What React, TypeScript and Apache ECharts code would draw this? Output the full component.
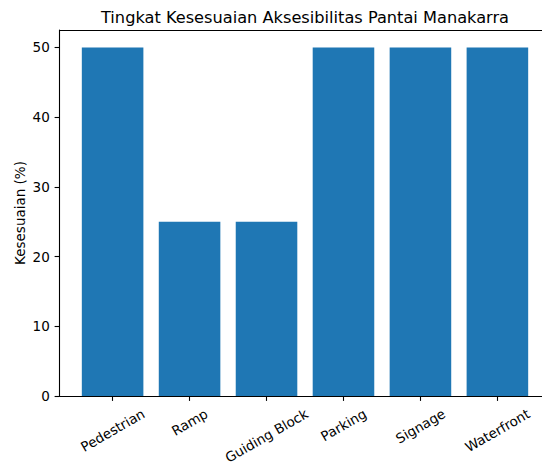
import React, { useEffect, useRef } from "react";
import * as echarts from "echarts";

const categories = ["Pedestrian", "Ramp", "Guiding Block", "Parking", "Signage", "Waterfront"];
const values = [50, 25, 25, 50, 50, 50];
const yTicks = [0, 10, 20, 30, 40, 50];
const titleText = "Tingkat Kesesuaian Aksesibilitas Pantai Manakarra";
const yLabel = "Kesesuaian (%)";

const FONT = "DejaVu Sans";
const TICK_FS = 13.5;
const TITLE_FS = 16.2;

export default function App() {
  const ref = useRef<HTMLDivElement>(null);
  useEffect(() => {
    if (!ref.current) return;
    const chart = echarts.init(ref.current, null, { renderer: "svg" });

    const plotLeft = 59.5;
    const plotTop = 30;
    const plotBottom = 396;
    const xMin = -0.69;
    const xMax = 5.69;
    const plotWidth = 491;
    const unit = plotWidth / (xMax - xMin);
    const catLeft = plotLeft + (-0.5 - xMin) * unit;
    const catWidth = categories.length * unit;
    const yMax = 52.5;

    const axisLineStyle = { color: "#000", width: 1.1 };

    chart.setOption({
      animation: false,
      backgroundColor: "#fff",
      textStyle: { fontFamily: FONT },
      grid: [
        {
          left: plotLeft,
          top: plotTop,
          width: plotWidth,
          height: plotBottom - plotTop,
          outerBoundsMode: "none",
          containLabel: false,
        },
        {
          left: catLeft,
          top: plotTop,
          width: catWidth,
          height: plotBottom - plotTop,
          outerBoundsMode: "none",
          containLabel: false,
        },
      ],
      xAxis: [
        {
          gridIndex: 0,
          type: "value",
          min: 0,
          max: 1,
          position: "bottom",
          axisLine: { show: true, lineStyle: axisLineStyle },
          axisTick: { show: false },
          axisLabel: { show: false },
          splitLine: { show: false },
        },
        {
          gridIndex: 0,
          type: "value",
          min: 0,
          max: 1,
          position: "top",
          axisLine: { show: true, lineStyle: axisLineStyle },
          axisTick: { show: false },
          axisLabel: { show: false },
          splitLine: { show: false },
        },
        {
          gridIndex: 1,
          type: "category",
          data: categories,
          position: "bottom",
          axisLine: { show: false },
          axisTick: {
            show: true,
            alignWithLabel: true,
            interval: 0,
            length: 4.9,
            lineStyle: axisLineStyle,
          },
          axisLabel: { show: false },
          splitLine: { show: false },
        },
      ],
      yAxis: [
        {
          gridIndex: 0,
          type: "value",
          min: 0,
          max: yMax,
          interval: 10,
          position: "left",
          axisLine: { show: true, lineStyle: axisLineStyle },
          axisTick: { show: true, length: 4.9, lineStyle: axisLineStyle, customValues: yTicks },
          axisLabel: {
            show: true,
            margin: 9.7,
            fontSize: TICK_FS,
            color: "#000",
            fontFamily: FONT,
            customValues: yTicks,
          },
          splitLine: { show: false },
        },
        {
          gridIndex: 1,
          type: "value",
          min: 0,
          max: yMax,
          show: false,
        },
      ],
      series: [
        {
          type: "bar",
          xAxisIndex: 2,
          yAxisIndex: 1,
          data: values,
          barWidth: "80%",
          itemStyle: { color: "#1f77b4" },
        },
      ],
    });

    // matplotlib-like rotated tick labels (centered on tick, bbox top below tick)
    const canvas = document.createElement("canvas");
    const ctx = canvas.getContext("2d")!;
    ctx.font = `${TICK_FS}px "${FONT}"`;
    const h = 15.2;
    const rot = (30 * Math.PI) / 180;
    const py0 = chart.convertToPixel({ yAxisIndex: 1 }, 0) as number;
    const graphics: any[] = categories.map((c) => {
      const w = ctx.measureText(c).width;
      const px = chart.convertToPixel({ xAxisIndex: 2 }, c) as number;
      const centerOff = 9.7 + (Math.sin(rot) * w + Math.cos(rot) * h) / 2;
      return {
        type: "text",
        x: px,
        y: py0 + centerOff,
        rotation: rot,
        style: {
          text: c,
          align: "center",
          verticalAlign: "middle",
          fontSize: TICK_FS,
          fontFamily: FONT,
          fill: "#000",
        },
      };
    });
    graphics.push({
      type: "text",
      x: plotLeft + plotWidth / 2,
      y: 17.1,
      style: {
        text: titleText,
        align: "center",
        verticalAlign: "middle",
        fontSize: TITLE_FS,
        fontFamily: FONT,
        fill: "#000",
      },
    });
    graphics.push({
      type: "text",
      x: 20.3,
      y: (plotTop + plotBottom) / 2,
      rotation: Math.PI / 2,
      style: {
        text: yLabel,
        align: "center",
        verticalAlign: "middle",
        fontSize: TICK_FS,
        fontFamily: FONT,
        fill: "#000",
      },
    });
    chart.setOption({ graphic: graphics });

    return () => chart.dispose();
  }, []);
  return (
    <div
      ref={ref}
      style={{ position: "fixed", left: 0, top: 0, width: 542, height: 463 }}
    />
  );
}
